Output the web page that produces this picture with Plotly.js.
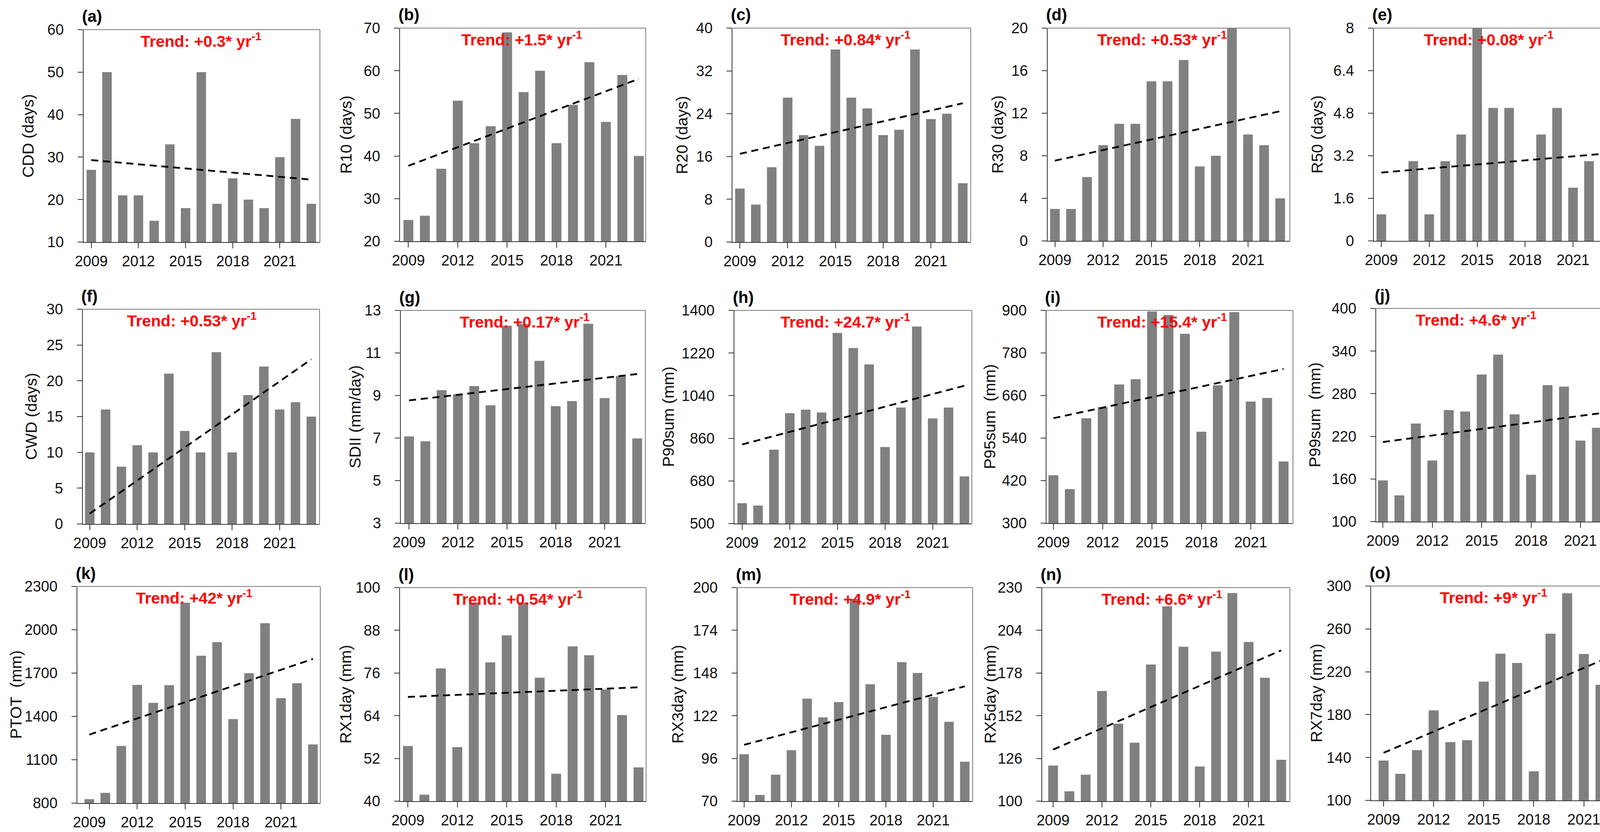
<!DOCTYPE html>
<html><head><meta charset="utf-8">
<script src="https://cdn.plot.ly/plotly-3.0.1.min.js"></script>
<style>html,body{margin:0;padding:0;background:#fff;overflow:hidden}</style>
</head><body><div id="chart" style="width:4175px;height:2131px"></div>
<script>
// ---------- data ----------
const years = [2009,2010,2011,2012,2013,2014,2015,2016,2017,2018,2019,2020,2021,2022,2023];
const xTickVals = [2009,2012,2015,2018,2021];
const trendYears = [2009,2023];

const cdd    = [27,50,21,21,15,33,18,50,19,25,20,18,30,39,19];
const r10    = [25,26,37,53,43,47,69,55,60,43,52,62,48,59,40];
const r20    = [10,7,14,27,20,18,36,27,25,20,21,36,23,24,11];
const r30    = [3,3,6,9,11,11,15,15,17,7,8,20,10,9,4];
const r50    = [1,0,3,1,3,4,8,5,5,0,4,5,2,3,0];
const cwd    = [10,16,8,11,10,21,13,10,24,10,18,22,16,17,15];
const sdii   = [7.08,6.85,9.25,9.06,9.44,8.54,12.28,12.36,10.63,8.5,8.74,12.37,8.88,9.92,6.98];
const p90sum = [586,576,812,966,981,969,1305,1241,1172,823,990,1332,944,990,699];
const p95sum = [435,396,596,627,691,706,897,887,834,558,689,895,643,653,474];
const p99sum = [158,137,238,186,257,255,307,335,251,166,292,290,214,232,176];
const ptot   = [827,871,1196,1618,1494,1616,2187,1820,1914,1382,1699,2045,1527,1630,1206];
const rx1day = [55.5,41.8,77.3,55.2,95.8,79.0,86.6,95.8,74.7,47.7,83.5,81.0,71.4,64.2,49.5];
const rx3day = [98.6,73.8,86.1,101,132.4,121,130.3,193.1,141.2,110.4,154.6,148,133.4,118.3,94];
const rx5day = [121.7,106,116.1,167.1,147.2,135.6,183.2,218.6,194,121.1,191,226.7,196.9,175.1,125.2];
const rx7day = [137.2,124.8,146.9,184,154.4,156.2,210.8,236.9,228.2,127.1,255.6,293.3,236.6,207.8,163.1];

// trend line end values (2009, 2023)
const cddTrend    = [29.3,24.7];
const r10Trend    = [37.7,58.1];
const r20Trend    = [16.5,25.95];
const r30Trend    = [7.54,12.19];
const r50Trend    = [2.57,3.28];
const cwdTrend    = [1.45,23.0];
const sdiiTrend   = [8.77,10.01];
const p90Trend    = [834,1082];
const p95Trend    = [596,735];
const p99Trend    = [212,255];
const ptotTrend   = [1274,1798];
const rx1Trend    = [69.3,72.0];
const rx3Trend    = [104.3,139.9];
const rx5Trend    = [131.4,191.8];
const rx7Trend    = [144.4,236.8];

const trendLabels = ['+0.3*','+1.5*','+0.84*','+0.53*','+0.08*','+0.53*','+0.17*','+24.7*','+15.4*','+4.6*','+42*','+0.54*','+4.9*','+6.6*','+9*'];
const yTitles = ['CDD (days)','R10 (days)','R20 (days)','R30 (days)','R50 (days)','CWD (days)','SDII (mm/day)','P90sum (mm)','P95sum\u00a0 (mm)','P99sum\u00a0 (mm)','PTOT\u00a0 (mm)','RX1day (mm)','RX3day (mm)','RX5day (mm)','RX7day (mm)'];
const panelLetters = ['(a)','(b)','(c)','(d)','(e)','(f)','(g)','(h)','(i)','(j)','(k)','(l)','(m)','(n)','(o)'];
const seriesList = [cdd,r10,r20,r30,r50,cwd,sdii,p90sum,p95sum,p99sum,ptot,rx1day,rx3day,rx5day,rx7day];
const trendList = [cddTrend,r10Trend,r20Trend,r30Trend,r50Trend,cwdTrend,sdiiTrend,p90Trend,p95Trend,p99Trend,ptotTrend,rx1Trend,rx3Trend,rx5Trend,rx7Trend];

// ---------- layout config (pixels) ----------
const W = 4175, H = 2131;
const boxes = [ // left, right, top, bottom
  [214,819,76,620],[1024,1653,72,618],[1875,2485,72,620],[2682,3302,72,617],[3517,4132,72,617],
  [212,818,792,1342],[1026,1652,795,1340],[1880,2488,795,1341],[2679,3310,795,1340],[3523,4153,790,1336],
  [198,820,1502,2057],[1024,1654,1505,2052],[1888,2490,1505,2052],[2668,3302,1505,2052],[3510,4164,1501,2050]
];
const yRanges = [[10,60],[20,70],[0,40],[0,20],[0,8],[0,30],[3,13],[500,1400],[300,900],[100,400],[800,2300],[40,100],[70,200],[100,230],[100,300]];
const yDticks = [10,10,8,4,1.6,5,2,180,120,60,300,12,26,26,40];
const xPads = [[0.49,14.55],[0.51,14.42],[0.47,14.5],[0.45,14.6],[0.47,14.57],
               [0.44,14.52],[0.51,14.5],[0.49,14.47],[0.42,14.57],[0.41,14.54],
               [0.75,14.46],[0.48,14.46],[0.42,14.5],[0.67,14.53],[0.75,14.56]];
const titleOffsets = [142,138,129,128,145,132,118,169,146,157,158,140,154,134,141];
const trendX = [0.496,0.496,0.475,0.472,0.478,0.46,0.506,0.467,0.469,0.405,0.48,0.479,0.48,0.484,0.479];

const FONT = 'Liberation Sans, Arial, Helvetica, sans-serif';
const traces = [];
const layout = {
  width: W, height: H, margin: {l:0,r:0,t:0,b:0},
  paper_bgcolor: '#fff', plot_bgcolor: '#fff',
  showlegend: false, bargap: 0.4,
  font: {family: FONT, color: '#111'},
  shapes: [], annotations: []
};

seriesList.forEach((vals, i) => {
  const n = i + 1;
  const xa = n === 1 ? 'x' : 'x' + n;
  const ya = n === 1 ? 'y' : 'y' + n;
  const xk = n === 1 ? 'xaxis' : 'xaxis' + n;
  const yk = n === 1 ? 'yaxis' : 'yaxis' + n;
  const b = boxes[i];
  traces.push({type:'bar', x: years, y: vals, xaxis: xa, yaxis: ya,
    width: 0.6, marker: {color: '#808080', line: {width: 0}}, hoverinfo: 'x+y'});
  traces.push({type:'scatter', mode:'lines', x: trendYears, y: trendList[i], xaxis: xa, yaxis: ya,
    line: {color: '#000', width: 4.5, dash: '18px,12px'}, hoverinfo: 'skip'});
  layout[xk] = {
    domain: [b[0]/W, b[1]/W], anchor: ya,
    range: [2009 - xPads[i][0], 2009 + xPads[i][1]],
    tickmode: 'array', tickvals: xTickVals, ticktext: xTickVals.map(String),
    ticks: 'outside', ticklen: 14, tickwidth: 2, tickcolor: '#333',
    showline: true, linecolor: '#333', linewidth: 2,
    showgrid: false, zeroline: false, ticklabelstandoff: 0,
    tickfont: {family: FONT, size: 38, color: '#111'}, fixedrange: true
  };
  layout[yk] = {
    domain: [1 - b[3]/H, 1 - b[2]/H], anchor: xa,
    range: yRanges[i], tickmode: 'linear', tick0: yRanges[i][0], dtick: yDticks[i],
    ticks: 'outside', ticklen: 13, tickwidth: 2, tickcolor: '#333',
    showline: true, linecolor: '#333', linewidth: 2,
    showgrid: false, zeroline: false, ticklabelstandoff: 28,
    tickfont: {family: FONT, size: 38, color: '#111'}, fixedrange: true
  };
  const xd = xa + ' domain', yd = ya + ' domain';
  layout.shapes.push({type:'line', xref: xd, yref: yd, x0: 0, x1: 1, y0: 1, y1: 1, line: {color: '#7a7a7a', width: 2}});
  layout.shapes.push({type:'line', xref: xd, yref: yd, x0: 1, x1: 1, y0: 0, y1: 1, line: {color: '#7a7a7a', width: 2}});
  layout.annotations.push({xref: xd, yref: yd, x: trendX[i], y: 1, xanchor: 'center', yanchor: 'middle', yshift: -27,
    showarrow: false, text: '<b>Trend: ' + trendLabels[i] + ' yr<sup>-1</sup></b>',
    font: {family: FONT, size: 41, color: '#ff0000'}});
  layout.annotations.push({xref: xd, yref: yd, x: 0, y: 1, xanchor: 'left', yanchor: 'middle', xshift: -6, yshift: 34,
    showarrow: false, text: '<b>' + panelLetters[i] + '</b>', font: {family: FONT, size: 42, color: '#000'}});
  layout.annotations.push({xref: xd, yref: yd, x: 0, y: 0.5, xanchor: 'center', yanchor: 'middle', xshift: -titleOffsets[i],
    textangle: -90, showarrow: false, text: yTitles[i], font: {family: FONT, size: 41, color: '#111'}});
});

Plotly.newPlot('chart', traces, layout, {staticPlot: true, displayModeBar: false});
</script>
</body></html>
